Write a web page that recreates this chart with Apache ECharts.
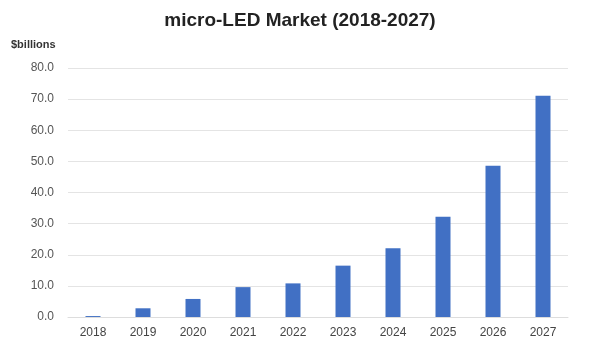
<!DOCTYPE html>
<html><head><meta charset="utf-8">
<script src="https://cdn.jsdelivr.net/npm/echarts@6/dist/echarts.min.js"></script>
<style>html,body{margin:0;padding:0;background:#fff}#c{width:600px;height:349px}</style>
</head><body><div id="c"></div>
<script>
const categories = ['2018','2019','2020','2021','2022','2023','2024','2025','2026','2027'];
const marketValues = [0.3, 2.8, 5.8, 9.6, 10.8, 16.5, 22.1, 32.2, 48.6, 71.1];
const yTicks = {min: 0, max: 80, interval: 10};

const chart = echarts.init(document.getElementById('c'), null, {renderer: 'canvas'});
chart.setOption({
  animation: false,
  backgroundColor: '#fff',
  title: [{
    text: 'micro-LED Market (2018-2027)',
    left: 'center', top: 6,
    textStyle: {fontFamily: 'Liberation Sans, Arial, sans-serif', fontWeight: 'bold', fontSize: 19, color: '#222'}
  }, {
    text: '$billions',
    left: 6, top: 34,
    textStyle: {fontFamily: 'Liberation Sans, Arial, sans-serif', fontWeight: 'bold', fontSize: 11, color: '#333'}
  }],
  grid: {left: 68, right: 32, top: 68, bottom: 32},
  xAxis: {
    type: 'category', data: categories,
    axisLine: {show: true, lineStyle: {color: '#ddd'}},
    axisTick: {show: false},
    axisLabel: {color: '#444', fontSize: 12, fontFamily: 'Liberation Sans, Arial, sans-serif', margin: 10}
  },
  yAxis: {
    type: 'value', min: yTicks.min, max: yTicks.max, interval: yTicks.interval,
    axisLine: {show: false}, axisTick: {show: false},
    splitLine: {lineStyle: {color: '#e4e4e4'}},
    axisLabel: {color: '#555', fontSize: 12, fontFamily: 'Liberation Sans, Arial, sans-serif', margin: 14,
      formatter: v => v.toFixed(1)}
  },
  series: [{
    type: 'bar', data: marketValues, barWidth: 15,
    itemStyle: {color: '#4170c4'}
  }]
});
</script></body></html>
